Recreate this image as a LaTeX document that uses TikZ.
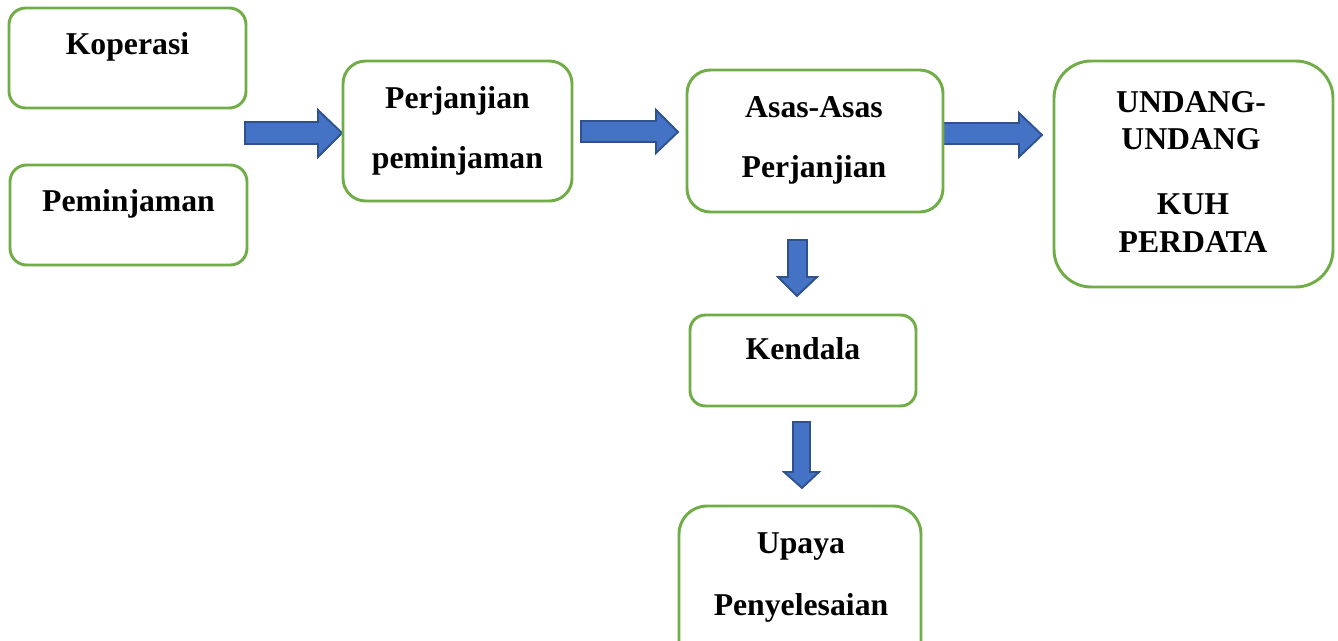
\documentclass[tikz,border=0pt]{standalone}
\usepackage{fontspec}
\setmainfont{Liberation Serif}
\begin{document}
\begin{tikzpicture}[x=0.75pt,y=-0.75pt,
  box/.style={draw=boxgreen,line width=2.2pt,rectangle,inner sep=0pt},
  lbl/.style={anchor=base,inner sep=0pt,font=\fontsize{23.8}{28}\selectfont\bfseries},
  blockarrow/.style={fill=arrowblue,draw=arrowedge,line width=1.4pt,line join=miter}]
\definecolor{boxgreen}{HTML}{70AD47}
\definecolor{arrowblue}{HTML}{4472C4}
\definecolor{arrowedge}{HTML}{2F528F}
\useasboundingbox (0,0) rectangle (1338,641);

% block arrows
\filldraw[blockarrow] (245,122) -- (318,122) -- (318,110) -- (342,133) -- (318,157) -- (318,144) -- (245,144) -- cycle;
\filldraw[blockarrow] (581,121) -- (656,121) -- (656,110) -- (678,132) -- (656,153) -- (656,142) -- (581,142) -- cycle;
\filldraw[blockarrow] (943,123) -- (1019,123) -- (1019,113) -- (1042,135) -- (1019,157) -- (1019,144) -- (943,144) -- cycle;
\filldraw[blockarrow] (788,240) -- (807,240) -- (807,277) -- (817,277) -- (797,296) -- (778,277) -- (788,277) -- cycle;
\filldraw[blockarrow] (793,422) -- (810,422) -- (810,472) -- (819,472) -- (802,488) -- (784,472) -- (793,472) -- cycle;

% boxes
\node[box,rounded corners=12.5pt,minimum width=177.75pt,minimum height=75pt] (kop) at (127.5,58) {};
\node[box,rounded corners=12.5pt,minimum width=177.75pt,minimum height=75pt] (pem) at (128.5,215) {};
\node[box,rounded corners=17pt,minimum width=171.75pt,minimum height=105pt] (per) at (457.5,131) {};
\node[box,rounded corners=17.5pt,minimum width=192pt,minimum height=106.5pt] (asas) at (815,141) {};
\node[box,rounded corners=28pt,minimum width=209.25pt,minimum height=169.5pt] (uu) at (1193.5,174) {};
\node[box,rounded corners=11.5pt,minimum width=169.5pt,minimum height=68.25pt] (ken) at (803,360.5) {};
\node[box,rounded corners=21pt,minimum width=181.5pt,minimum height=130.5pt] (up) at (800,593) {};

% texts
\node[lbl] (tKop) at (127.5,55) {Koperasi};
\node[lbl] (tPem) at (128.5,212) {Peminjaman};
\node[lbl] (tPer1) at (457.5,109) {Perjanjian};
\node[lbl] (tPer2) at (457.5,169) {peminjaman};
\node[lbl] (tAs1) at (814,118) {Asas-Asas};
\node[lbl] (tAs2) at (814,178) {Perjanjian};
\node[lbl] (tU1) at (1191,113) {UNDANG-};
\node[lbl] (tU2) at (1191,150) {UNDANG};
\node[lbl] (tU3) at (1193,215) {KUH};
\node[lbl] (tU4) at (1193,253) {PERDATA};
\node[lbl] (tKen) at (803,360) {Kendala};
\node[lbl] (tUp1) at (801,553) {Upaya};
\node[lbl] (tUp2) at (801,615) {Penyelesaian};
\end{tikzpicture}
\end{document}
